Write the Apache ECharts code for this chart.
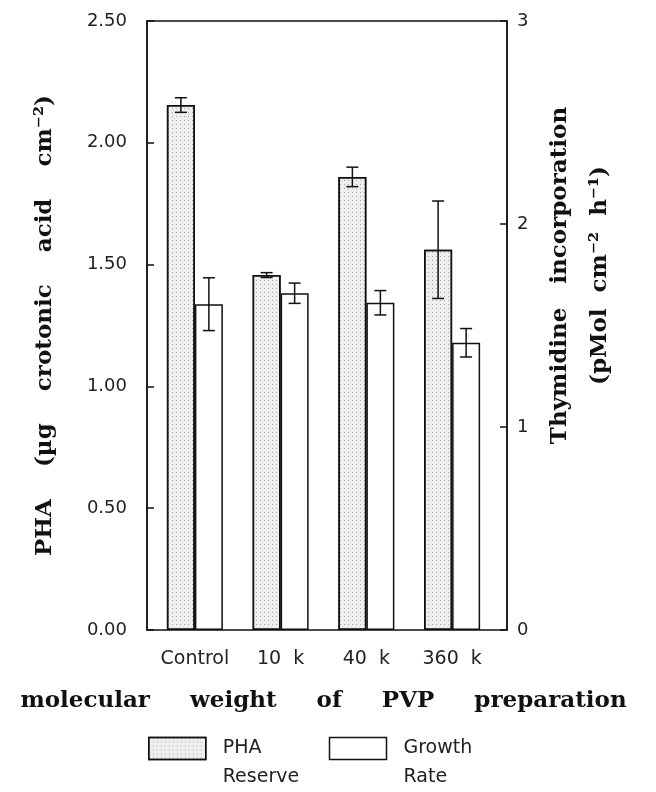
<!DOCTYPE html>
<html>
<head>
<meta charset="utf-8">
<script src="https://cdn.jsdelivr.net/npm/echarts@6/dist/echarts.min.js"></script>
<style>
  html, body { margin: 0; padding: 0; background: #fff; }
  #chart { width: 656px; height: 792px; }
</style>
</head>
<body>
<div id="chart"></div>
<script>
// values
const categories = ["Control", "10 k", "40 k", "360 k"];
const phaReserve = [2.155, 1.457, 1.86, 1.561];   // left axis, µg crotonic acid cm-2
const phaErr = [0.03, 0.01, 0.04, 0.2];
const growthRate = [1.605, 1.659, 1.612, 1.415];  // right axis, pMol cm-2 h-1
const growthErr = [0.13, 0.05, 0.06, 0.07];

const BAR_W = 28;
const sansFont = "DejaVu Sans";
const serifFont = "DejaVu Serif";
const ink = "#111";

// error bar drawn on the category center, shifted to the bar it belongs to
const errorBars = (shift) => (params, api) => {
  const idx = api.value(0);
  const mean = api.value(1);
  const err = api.value(2);
  const top = api.coord([idx, mean + err]);
  const bot = api.coord([idx, mean - err]);
  const x = top[0] + shift;
  const cap = 6;
  const style = { stroke: ink, lineWidth: 1.5 };
  return {
    type: "group",
    children: [
      { type: "line", shape: { x1: x, y1: top[1], x2: x, y2: bot[1] }, style },
      { type: "line", shape: { x1: x - cap, y1: top[1], x2: x + cap, y2: top[1] }, style },
      { type: "line", shape: { x1: x - cap, y1: bot[1], x2: x + cap, y2: bot[1] }, style },
    ],
  };
};

const tickStyle = { show: true, inside: true, length: 7, lineStyle: { color: ink, width: 1.5 } };
const nameStyle = { fontFamily: serifFont, fontWeight: "bold", fontSize: 23, color: ink };

const chart = echarts.init(document.getElementById("chart"));
chart.setOption({
  animation: false,
  backgroundColor: "#fff",
  grid: [
    // frame
    { left: 147, right: 149, top: 21, bottom: 162, show: true, borderColor: ink, borderWidth: 1.5, backgroundColor: "transparent" },
    // bars
    { left: 152, right: 161, top: 21, bottom: 162 },
  ],
  xAxis: [
    { gridIndex: 0, type: "value", show: false, min: 0, max: 1 },
    {
      gridIndex: 1,
      type: "category",
      data: categories,
      axisLine: { show: false },
      axisTick: { show: false },
      axisLabel: {
        interval: 0,
        margin: 20,
        fontFamily: sansFont,
        fontSize: 19,
        color: "#222",
        formatter: (v) => v.replace(" ", "  "),
      },
      name: "molecular     weight     of     PVP     preparation",
      nameLocation: "middle",
      nameGap: 60,
      nameTextStyle: nameStyle,
    },
  ],
  yAxis: [
    {
      gridIndex: 0,
      position: "left",
      min: 0,
      max: 2.5,
      interval: 0.5,
      axisLine: { show: true, lineStyle: { color: ink, width: 1.5 } },
      axisTick: tickStyle,
      splitLine: { show: false },
      axisLabel: { margin: 20, fontFamily: sansFont, fontSize: 18, color: "#222", formatter: (v) => v.toFixed(2) },
      name: "PHA    (µg    crotonic    acid    cm⁻²)",
      nameLocation: "middle",
      nameRotate: 90,
      nameGap: 90,
      nameTextStyle: nameStyle,
    },
    {
      gridIndex: 0,
      position: "right",
      min: 0,
      max: 3,
      interval: 1,
      axisLine: { show: true, lineStyle: { color: ink, width: 1.5 } },
      axisTick: tickStyle,
      splitLine: { show: false },
      axisLabel: { margin: 10, fontFamily: sansFont, fontSize: 18, color: "#222" },
      name: "Thymidine   incorporation\n(pMol  cm⁻²  h⁻¹)",
      nameLocation: "middle",
      nameRotate: 90,
      nameGap: 33,
      nameTextStyle: Object.assign({}, nameStyle, { lineHeight: 40, padding: [0, 0, 0, 100] }),
    },
    { gridIndex: 1, min: 0, max: 2.5, show: false, splitLine: { show: false } },
    { gridIndex: 1, min: 0, max: 3, show: false, splitLine: { show: false } },
  ],
  legend: {
    left: 148,
    top: 705,
    padding: 0,
    itemWidth: 57,
    itemHeight: 22,
    itemGap: 10,
    icon: "rect",
    itemStyle: { borderColor: ink, borderWidth: 1.5 },
    // empty first line keeps the first word level with the box
    formatter: (name) => "\n" + name,
    textStyle: { fontFamily: sansFont, fontSize: 19, color: "#222", lineHeight: 29, padding: [0, 0, 0, 12], width: 96 },
    data: [
      { name: "PHA\nReserve" },
      { name: "Growth\nRate" },
    ],
  },
  series: [
    {
      name: "PHA\nReserve",
      type: "bar",
      xAxisIndex: 1,
      yAxisIndex: 2,
      barWidth: BAR_W,
      barGap: "0%",
      data: phaReserve,
      itemStyle: {
        color: "#eeeeee",
        borderColor: ink,
        borderWidth: 1.5,
        decal: { symbol: "rect", symbolSize: 1, color: "rgba(0,0,0,0.28)", dashArrayX: [1, 3], dashArrayY: [1, 3], rotation: 0 },
      },
    },
    {
      name: "Growth\nRate",
      type: "bar",
      xAxisIndex: 1,
      yAxisIndex: 3,
      barWidth: BAR_W,
      barGap: "0%",
      data: growthRate,
      itemStyle: { color: "#fff", borderColor: ink, borderWidth: 1.5 },
    },
    {
      type: "custom",
      xAxisIndex: 1,
      yAxisIndex: 2,
      renderItem: errorBars(-BAR_W / 2),
      data: phaReserve.map((v, i) => [i, v, phaErr[i]]),
      z: 5,
    },
    {
      type: "custom",
      xAxisIndex: 1,
      yAxisIndex: 3,
      renderItem: errorBars(BAR_W / 2),
      data: growthRate.map((v, i) => [i, v, growthErr[i]]),
      z: 5,
    },
  ],
});
</script>
</body>
</html>
